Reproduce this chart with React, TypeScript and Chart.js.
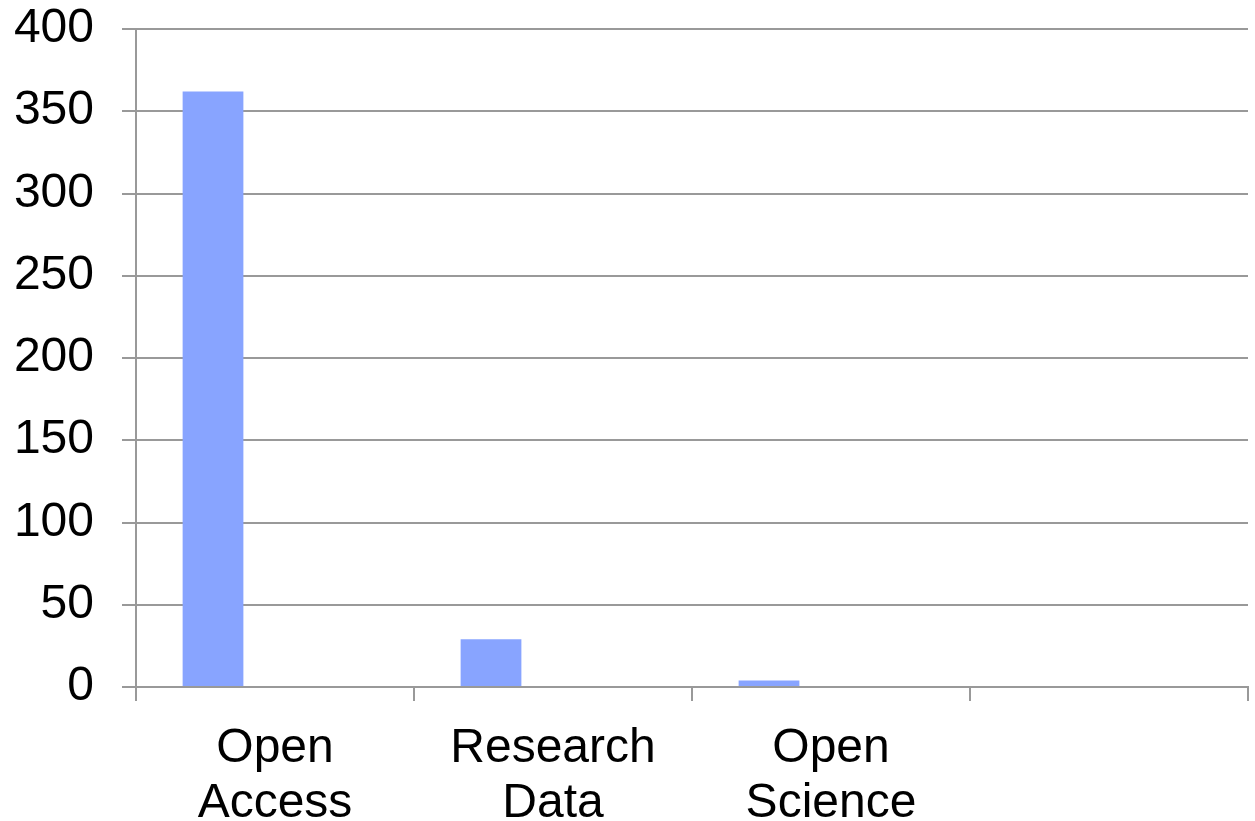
import React, { useEffect, useRef } from "react";
import { Chart, registerables } from "chart.js";

Chart.register(...registerables);

const categories: (string | string[])[] = [
  ["Open", "Access"],
  ["Research", "Data"],
  ["Open", "Science"],
  "",
];
const seriesValues: (number | null)[] = [362, 29, 4, null];
const emptySeries: (number | null)[] = [null, null, null, null];
const yTicks = { min: 0, max: 400, step: 50 };

const GRID = "#999999";
const BAR = "#88a4ff";
const FONT = "'Liberation Sans', Arial, sans-serif";

export default function App() {
  const ref = useRef<HTMLCanvasElement>(null);
  useEffect(() => {
    document.body.style.margin = "0";
    const ctx = ref.current!;
    const chart = new Chart(ctx, {
      type: "bar",
      data: {
        labels: categories,
        datasets: [
          {
            data: seriesValues,
            backgroundColor: BAR,
            borderWidth: 0,
            categoryPercentage: 0.892,
            barPercentage: 0.49,
          },
          {
            data: emptySeries,
            backgroundColor: BAR,
            borderWidth: 0,
            categoryPercentage: 0.892,
            barPercentage: 0.49,
          },
        ],
      },
      options: {
        animation: false,
        responsive: false,
        maintainAspectRatio: false,
        layout: { padding: { top: 29, right: 7, bottom: 0, left: 0 } },
        plugins: { legend: { display: false }, tooltip: { enabled: false } },
        scales: {
          x: {
            offset: true,
            grid: {
              offset: true,
              drawOnChartArea: false,
              drawTicks: true,
              tickLength: 14,
              color: GRID,
              lineWidth: 2,
            },
            border: { display: true, color: GRID, width: 2 },
            ticks: {
              color: "#000",
              font: { family: FONT, size: 48, lineHeight: 1.15 },
              padding: 20,
              maxRotation: 0,
              autoSkip: false,
            },
            afterFit: (s: any) => {
              s.height = 134;
              s.paddingLeft = 0;
              s.paddingRight = 0;
              s.paddingTop = 0;
              s.paddingBottom = 0;
            },
          },
          y: {
            min: yTicks.min,
            max: yTicks.max,
            grid: {
              color: GRID,
              lineWidth: 2,
              tickLength: 14,
            },
            border: { display: true, color: GRID, width: 2 },
            ticks: {
              stepSize: yTicks.step,
              color: "#000",
              font: { family: FONT, size: 48 },
              padding: 28,
            },
            afterFit: (s: any) => {
              s.width = 136;
              s.paddingTop = 0;
              s.paddingBottom = 0;
              s.paddingLeft = 0;
              s.paddingRight = 0;
            },
          },
        },
      },
    });
    return () => chart.destroy();
  }, []);
  return (
    <div style={{ width: 1255, height: 821 }}>
      <canvas ref={ref} width={1255} height={821} style={{ display: "block" }} />
    </div>
  );
}
